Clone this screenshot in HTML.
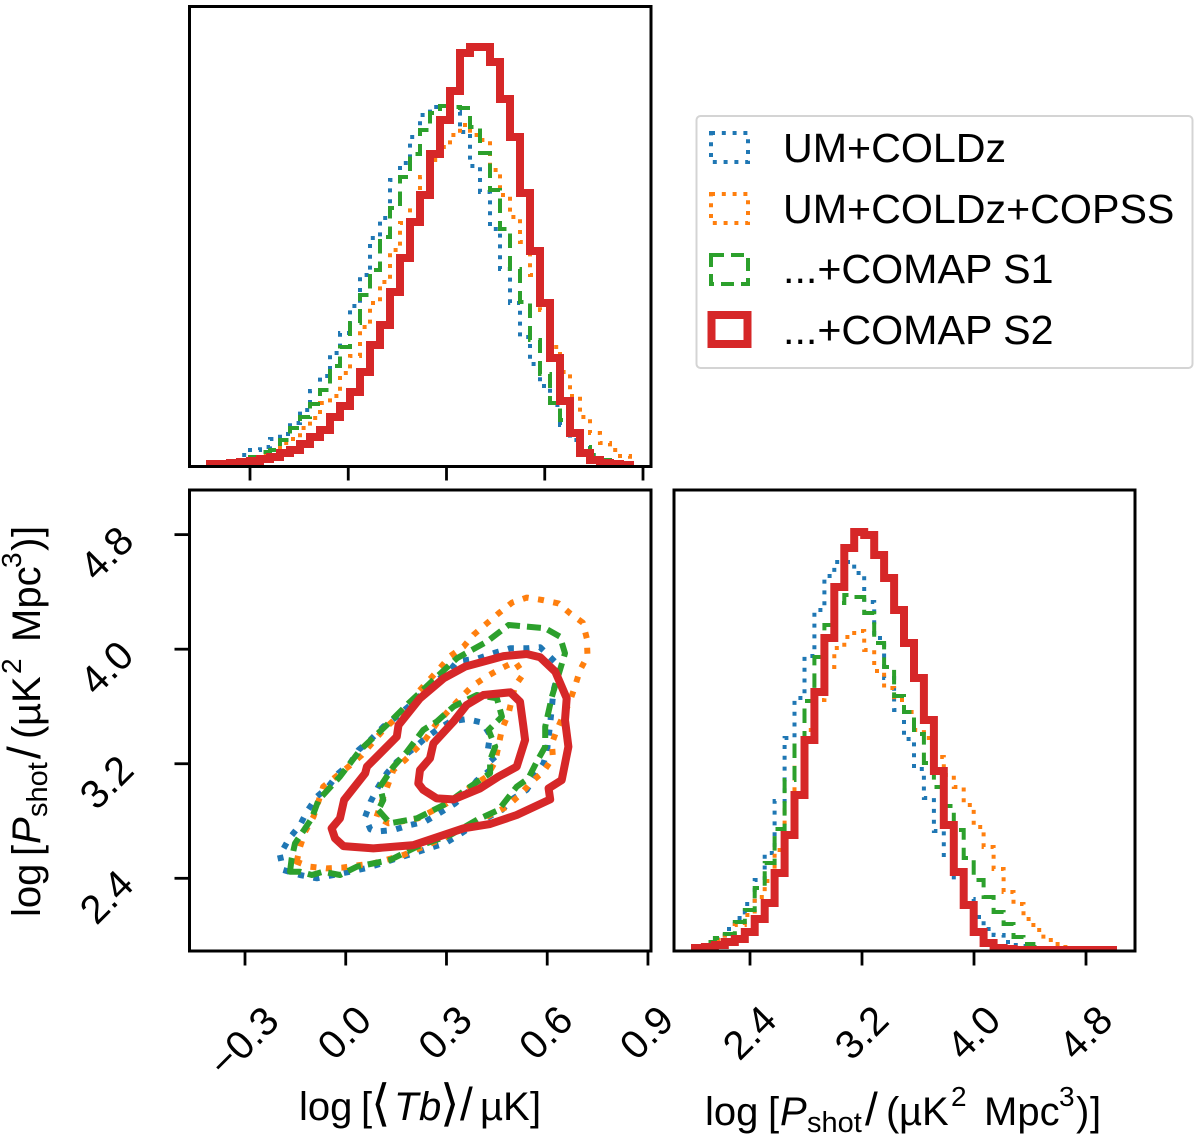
<!DOCTYPE html>
<html lang="en">
<head>
<meta charset="utf-8">
<title>Corner plot of log Tb and log Pshot</title>
<style>
html,body{margin:0;padding:0;background:#fff;}
svg{display:block;font-family:"Liberation Sans",sans-serif;fill:#000;}
text{font-family:"Liberation Sans","DejaVu Sans",sans-serif;}
</style>
</head>
<body>
<svg id="chart" xmlns="http://www.w3.org/2000/svg" width="1200" height="1142" viewBox="0 0 1200 1142">
  <rect x="0" y="0" width="1200" height="1142" fill="#fff"/>
  <defs>
    <clipPath id="clip-top"><rect x="189" y="6" width="462" height="460"/></clipPath>
    <clipPath id="clip-left"><rect x="189" y="490" width="462" height="461"/></clipPath>
    <clipPath id="clip-right"><rect x="674" y="490" width="461" height="461"/></clipPath>
  </defs>
  <g id="marks-top" clip-path="url(#clip-top)"></g>
  <g id="marks-left" clip-path="url(#clip-left)"></g>
  <g id="marks-right" clip-path="url(#clip-right)"></g>
  <g id="axes"></g>
  <rect x="189.5" y="6.5" width="461.5" height="460" fill="none" stroke="#000" stroke-width="3"/>
  <rect x="189.5" y="490" width="461.5" height="461" fill="none" stroke="#000" stroke-width="3"/>
  <rect x="674" y="490" width="461" height="461" fill="none" stroke="#000" stroke-width="3"/>

  <text font-size="40" y="1120"><tspan x="299">log</tspan><tspan x="361">[</tspan><tspan x="371" font-size="50" font-family="'DejaVu Sans',sans-serif" font-weight="200">⟨</tspan><tspan x="394" font-style="italic">T</tspan><tspan x="419" font-style="italic">b</tspan><tspan x="440" font-size="50" font-family="'DejaVu Sans',sans-serif" font-weight="200">⟩</tspan><tspan x="460" font-size="46">/</tspan><tspan x="480">µK</tspan><tspan x="530">]</tspan></text>

  <text font-size="40" y="1125"><tspan x="705">log</tspan><tspan x="768">[</tspan><tspan x="780" font-style="italic">P</tspan><tspan x="807" y="1132" font-size="29">shot</tspan><tspan x="865" y="1125" font-size="46">/</tspan><tspan x="886">(</tspan><tspan x="899">µK</tspan><tspan x="951" y="1106" font-size="28">2</tspan><tspan x="984" y="1125">Mpc</tspan><tspan x="1059" y="1106" font-size="28">3</tspan><tspan x="1076" y="1125">)</tspan><tspan x="1090">]</tspan></text>

  <g transform="translate(40,917) rotate(-90)">
    <text font-size="40" y="0"><tspan x="0">log</tspan><tspan x="61">[</tspan><tspan x="73" font-style="italic">P</tspan><tspan x="100" y="7" font-size="29">shot</tspan><tspan x="158" y="0" font-size="46">/</tspan><tspan x="178">(</tspan><tspan x="191">µK</tspan><tspan x="243" y="-19" font-size="28">2</tspan><tspan x="275" y="0">Mpc</tspan><tspan x="349" y="-19" font-size="28">3</tspan><tspan x="366" y="0">)</tspan><tspan x="380">]</tspan></text>
  </g>

  <g>
    <rect x="696.5" y="116" width="496" height="252" rx="4" ry="4" fill="#fff" stroke="#d4d4d4" stroke-width="2"/>
    <rect x="711" y="133" width="37" height="29" fill="none" stroke="#1f77b4" stroke-width="4" stroke-dasharray="4 6.8"/>
    <text x="783" y="162" font-size="41.2">UM+COLDz</text>
    <rect x="711" y="194" width="37" height="29" fill="none" stroke="#ff7f0e" stroke-width="4" stroke-dasharray="4 6.8"/>
    <text x="783" y="223" font-size="41.2">UM+COLDz+COPSS</text>
    <rect x="711" y="255" width="37" height="29" fill="none" stroke="#2ca02c" stroke-width="4" stroke-dasharray="13 7"/>
    <text x="783" y="283" font-size="41.2">...+COMAP S1</text>
    <rect x="711.5" y="315" width="36" height="29" fill="none" stroke="#d62728" stroke-width="8"/>
    <text x="783" y="344" font-size="41.2">...+COMAP S2</text>
  </g>
</svg>
<script>
// ---- tick values and labels ----
const tbTicks = [-0.3, 0.0, 0.3, 0.6, 0.9];
const tbTickLabels = ['\u22120.3', '0.0', '0.3', '0.6', '0.9'];
const shotTicks = [2.4, 3.2, 4.0, 4.8];
const shotTickLabels = ['2.4', '3.2', '4.0', '4.8'];

// ---- log Tb histogram: shared bins, relative counts per bin ----
const tbBinStart = -0.4221;
const tbBinWidth = 0.03053;
const tbCountsColdz = [2,3,6,11,16,19,27,32,43,56,75,90,113,133,160,191,228,248,286,303,329,351,359,360,354,334,300,274,237,197,163,129,102,80,61,41,26,18,11,6,4,2];
const tbCountsCopss = [1,2,3,5,7,11,16,23,27,38,48,63,70,93,110,139,163,184,216,243,258,289,306,319,331,341,331,326,296,271,249,224,191,156,119,94,70,49,33,23,16,10];
const tbCountsS1 = [2,3,5,7,9,14,16,26,38,49,62,76,100,119,143,171,196,229,258,289,312,336,353,360,359,358,339,313,276,237,197,164,126,92,63,46,29,19,11,6,4,2];
const tbCountsS2 = [2,2,3,4,5,7,9,13,16,22,29,36,49,60,74,94,121,141,174,208,244,271,312,346,375,413,419,419,404,367,329,273,215,163,108,65,33,13,6,3,2,1];

// ---- log Pshot histogram: shared bins, relative counts per bin ----
const shotBinStart = 2.007;
const shotBinWidth = 0.0711;
const shotCountsColdz = [2,6,12,22,33,47,71,98,150,213,253,295,341,375,389,389,378,349,313,273,241,212,182,153,120,96,71,52,34,22,16,9,6,5,3,2,1,1,1,1,1,1];
const shotCountsCopss = [2,5,11,16,26,36,54,70,101,141,186,221,251,284,303,314,320,301,280,263,251,239,221,213,194,176,164,146,124,104,82,59,47,32,21,11,7,4,2,1,1,1];
const shotCountsS1 = [2,9,13,17,29,41,63,88,122,171,209,250,294,326,348,356,354,338,308,284,255,239,217,188,164,145,121,93,71,54,39,27,14,7,4,2,1,1,1,1,1,1];
const shotCountsS2 = [3,4,6,9,12,19,32,48,78,116,156,211,259,313,364,403,419,416,396,373,341,308,273,231,180,126,79,46,19,8,3,2,1,1,1,1,1,1,1,1,1,1];

// ---- contours in data coordinates: [log Tb, log Pshot] ----
const contourColdzOuter = [[-0.196,2.563],[-0.186,2.458],[-0.136,2.423],[-0.086,2.400],[-0.037,2.423],[0.013,2.446],[0.058,2.469],[0.107,2.504],[0.152,2.539],[0.202,2.574],[0.246,2.609],[0.296,2.644],[0.336,2.702],[0.390,2.784],[0.465,2.877],[0.499,2.958],[0.539,3.017],[0.589,3.203],[0.599,3.284],[0.609,3.482],[0.619,3.715],[0.638,3.878],[0.579,4.013],[0.539,4.006],[0.490,4.006],[0.445,3.976],[0.395,3.936],[0.331,3.913],[0.311,3.855],[0.261,3.762],[0.192,3.610],[0.152,3.529],[0.112,3.459],[0.073,3.366],[0.038,3.296],[0.013,3.203],[-0.022,3.133],[-0.052,3.040],[-0.086,2.970],[-0.116,2.865],[-0.136,2.772],[-0.168,2.679]];
const contourColdzInner = [[0.058,2.830],[0.074,2.935],[0.097,3.040],[0.122,3.133],[0.152,3.214],[0.197,3.296],[0.231,3.366],[0.271,3.436],[0.311,3.494],[0.360,3.512],[0.407,3.487],[0.430,3.401],[0.422,3.277],[0.445,3.214],[0.430,3.156],[0.390,3.082],[0.360,2.993],[0.326,2.923],[0.281,2.858],[0.236,2.795],[0.192,2.772],[0.142,2.737],[0.092,2.726],[0.073,2.742]];
const contourCopssOuter = [[-0.146,2.516],[-0.136,2.621],[-0.121,2.726],[-0.096,2.830],[-0.067,3.040],[0.008,3.179],[0.048,3.261],[0.112,3.436],[0.192,3.610],[0.212,3.692],[0.276,3.855],[0.311,3.952],[0.351,4.018],[0.380,4.099],[0.420,4.180],[0.455,4.250],[0.495,4.325],[0.539,4.360],[0.587,4.343],[0.634,4.320],[0.668,4.250],[0.706,4.185],[0.718,4.076],[0.720,3.952],[0.698,3.855],[0.683,3.743],[0.668,3.640],[0.629,3.440],[0.614,3.342],[0.617,3.245],[0.589,3.145],[0.554,3.075],[0.521,2.989],[0.480,2.900],[0.410,2.819],[0.351,2.749],[0.291,2.679],[0.231,2.621],[0.172,2.563],[0.082,2.504],[0.043,2.493],[-0.012,2.474],[-0.057,2.469],[-0.106,2.481]];
const contourCopssInner = [[0.092,2.830],[0.107,2.935],[0.142,3.156],[0.177,3.226],[0.236,3.366],[0.271,3.482],[0.341,3.657],[0.375,3.738],[0.415,3.803],[0.460,3.862],[0.504,3.913],[0.529,3.827],[0.504,3.743],[0.485,3.552],[0.465,3.440],[0.445,3.214],[0.420,3.110],[0.360,3.017],[0.301,2.923],[0.216,2.819],[0.162,2.795],[0.127,2.784]];
const contourS1Outer = [[-0.166,2.446],[-0.161,2.539],[-0.151,2.644],[-0.101,2.819],[-0.081,2.947],[-0.017,3.110],[0.043,3.296],[0.122,3.470],[0.187,3.622],[0.261,3.785],[0.331,3.936],[0.420,4.052],[0.485,4.169],[0.594,4.146],[0.638,4.087],[0.653,3.971],[0.638,3.855],[0.614,3.668],[0.594,3.459],[0.594,3.319],[0.569,3.214],[0.544,3.098],[0.509,3.040],[0.455,2.877],[0.390,2.807],[0.311,2.702],[0.212,2.621],[0.132,2.528],[0.033,2.481],[-0.017,2.423],[-0.067,2.446],[-0.101,2.423],[-0.136,2.446]];
const contourS1Inner = [[0.097,2.877],[0.132,2.784],[0.212,2.819],[0.301,2.923],[0.370,3.040],[0.430,3.133],[0.430,3.226],[0.445,3.319],[0.425,3.436],[0.465,3.529],[0.450,3.657],[0.390,3.680],[0.321,3.599],[0.271,3.494],[0.231,3.436],[0.182,3.284],[0.142,3.179],[0.102,3.040],[0.112,2.947]];
const contourS2Outer = [[-0.042,2.749],[-0.017,2.819],[-0.005,2.947],[0.058,3.133],[0.063,3.179],[0.152,3.389],[0.157,3.470],[0.221,3.657],[0.291,3.796],[0.355,3.878],[0.470,3.952],[0.539,3.966],[0.579,3.943],[0.624,3.843],[0.658,3.657],[0.653,3.505],[0.663,3.319],[0.643,3.086],[0.604,3.028],[0.609,2.951],[0.509,2.842],[0.430,2.779],[0.351,2.749],[0.202,2.632],[0.082,2.609],[-0.007,2.625],[-0.032,2.679]];
const contourS2Inner = [[0.216,3.063],[0.221,3.156],[0.251,3.238],[0.261,3.342],[0.321,3.494],[0.360,3.610],[0.410,3.680],[0.490,3.699],[0.519,3.633],[0.529,3.459],[0.534,3.366],[0.509,3.179],[0.455,3.110],[0.400,3.028],[0.321,2.951],[0.271,2.958],[0.231,3.017]];

// ---- axis functions ----
function xTop(v){ return 250 + (v + 0.3) * 327.5; }
function yTopCount(c){ return 466 - c; }
function xLeft(v){ return 245 + (v + 0.3) * 335.8; }
function yLeft(v){ return 878.3 - (v - 2.4) * 143.2; }
function xRight(v){ return 750 + (v - 2.4) * 140; }
function yRightCount(c){ return 951 - c; }

// ---- series styling ----
const colorColdz = '#1f77b4', colorCopss = '#ff7f0e', colorS1 = '#2ca02c', colorS2 = '#d62728';

const SVGNS = 'http://www.w3.org/2000/svg';
function mk(tag, attrs, parent){
  const n = document.createElementNS(SVGNS, tag);
  for (const k in attrs) n.setAttribute(k, attrs[k]);
  parent.appendChild(n);
  return n;
}

function stepPath(counts, start, width, xFn, yFn){
  let d = 'M' + xFn(start).toFixed(1) + ' ' + yFn(0).toFixed(1);
  counts.forEach(function(c, i){
    const y = yFn(c).toFixed(1);
    d += 'V' + y + 'H' + xFn(start + (i + 1) * width).toFixed(1);
  });
  return d + 'V' + yFn(0).toFixed(1);
}
function contourPath(points){
  return points.map(function(p, i){
    return (i ? 'L' : 'M') + xLeft(p[0]).toFixed(1) + ' ' + yLeft(p[1]).toFixed(1);
  }).join('') + 'Z';
}

const marksTop = document.getElementById('marks-top');
const marksLeft = document.getElementById('marks-left');
const marksRight = document.getElementById('marks-right');
const axes = document.getElementById('axes');

function drawHist(parent, counts, start, width, xFn, yFn, color, lw, dash, name){
  const el = mk('path', {d: stepPath(counts, start, width, xFn, yFn), fill: 'none', stroke: color, 'stroke-width': lw, 'stroke-dasharray': dash, 'stroke-linejoin': 'miter', 'stroke-linecap': 'butt'}, parent);
  
  
}
const dotHist = '4 6.8', dashHist = '14.5 8';
drawHist(marksTop, tbCountsColdz, tbBinStart, tbBinWidth, xTop, yTopCount, colorColdz, 4, dotHist, 'tb-hist-um-coldz');
drawHist(marksTop, tbCountsCopss, tbBinStart, tbBinWidth, xTop, yTopCount, colorCopss, 4, dotHist, 'tb-hist-um-coldz-copss');
drawHist(marksTop, tbCountsS1, tbBinStart, tbBinWidth, xTop, yTopCount, colorS1, 4, dashHist, 'tb-hist-comap-s1');
drawHist(marksTop, tbCountsS2, tbBinStart, tbBinWidth, xTop, yTopCount, colorS2, 8, 'none', 'tb-hist-comap-s2');

drawHist(marksRight, shotCountsColdz, shotBinStart, shotBinWidth, xRight, yRightCount, colorColdz, 4, dotHist, 'pshot-hist-um-coldz');
drawHist(marksRight, shotCountsCopss, shotBinStart, shotBinWidth, xRight, yRightCount, colorCopss, 4, dotHist, 'pshot-hist-um-coldz-copss');
drawHist(marksRight, shotCountsS1, shotBinStart, shotBinWidth, xRight, yRightCount, colorS1, 4, dashHist, 'pshot-hist-comap-s1');
drawHist(marksRight, shotCountsS2, shotBinStart, shotBinWidth, xRight, yRightCount, colorS2, 8, 'none', 'pshot-hist-comap-s2');

function drawContour(points, color, lw, dash, name){
  const el = mk('path', {d: contourPath(points), fill: 'none', stroke: color, 'stroke-width': lw, 'stroke-dasharray': dash, 'stroke-linejoin': 'round'}, marksLeft);
  
  
}
const dotContour = '6 9.5', dashContour = '14 7';
drawContour(contourColdzOuter, colorColdz, 6, dotContour, 'contour-um-coldz-outer');
drawContour(contourColdzInner, colorColdz, 6, dotContour, 'contour-um-coldz-inner');
drawContour(contourCopssOuter, colorCopss, 6, dotContour, 'contour-um-coldz-copss-outer');
drawContour(contourCopssInner, colorCopss, 6, dotContour, 'contour-um-coldz-copss-inner');
drawContour(contourS1Outer, colorS1, 6, dashContour, 'contour-comap-s1-outer');
drawContour(contourS1Inner, colorS1, 6, dashContour, 'contour-comap-s1-inner');
drawContour(contourS2Outer, colorS2, 8, 'none', 'contour-comap-s2-outer');
drawContour(contourS2Inner, colorS2, 8, 'none', 'contour-comap-s2-inner');

// ---- ticks ----
function tickLine(x1, y1, x2, y2, name){
  const el = mk('line', {x1: x1, y1: y1, x2: x2, y2: y2, stroke: '#000', 'stroke-width': 2.8}, axes);
  
  
}
function tickText(x, y, label, name){
  const el = mk('text', {transform: 'translate(' + x.toFixed(1) + ',' + y.toFixed(1) + ') rotate(-45)', 'text-anchor': 'middle', dy: '0.36em', 'font-size': 40}, axes);
  el.textContent = label;
  
  
}
tbTicks.forEach(function(v, i){
  tickLine(xTop(v), 466, xTop(v), 480.5, 'tb-hist-x-tick');
  tickLine(xLeft(v), 951, xLeft(v), 965.5, 'contour-x-tick');
  tickText(xLeft(v) - 2, 1032 + (v < 0 ? 9 : 0), tbTickLabels[i], 'contour-x-tick-label');
});
shotTicks.forEach(function(v, i){
  tickLine(189, yLeft(v), 174.5, yLeft(v), 'contour-y-tick');
  tickText(106, yLeft(v) + 18, shotTickLabels[i], 'contour-y-tick-label');
  tickLine(xRight(v), 951, xRight(v), 965.5, 'pshot-hist-x-tick');
  tickText(xRight(v) - 1, 1032, shotTickLabels[i], 'pshot-hist-x-tick-label');
});
</script>
</body>
</html>
